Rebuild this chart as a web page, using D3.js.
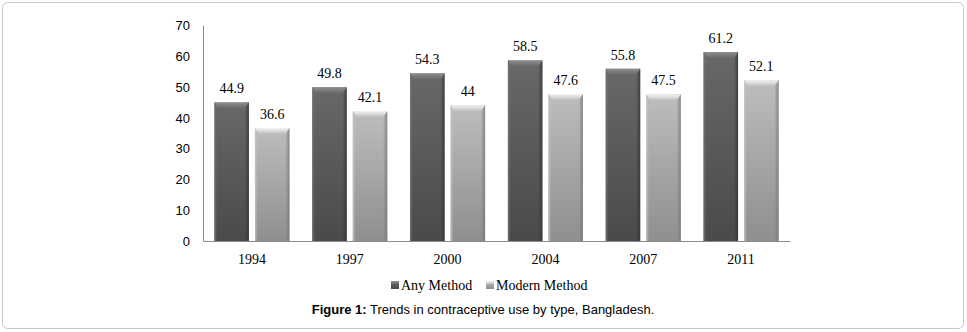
<!DOCTYPE html>
<html>
<head>
<meta charset="utf-8">
<script src="https://cdn.jsdelivr.net/npm/d3@7"></script>
<style>
  body { margin: 0; background: #fff; }
  svg { display: block; }
</style>
</head>
<body>
<svg id="chart" width="967" height="332"></svg>
<script>
const years = ["1994", "1997", "2000", "2004", "2007", "2011"];
const seriesNames = ["Any Method", "Modern Method"];
const anyMethod = [44.9, 49.8, 54.3, 58.5, 55.8, 61.2];
const modernMethod = [36.6, 42.1, 44, 47.6, 47.5, 52.1];
const yTicks = [0, 10, 20, 30, 40, 50, 60, 70];

const svg = d3.select("#chart"),
  margin = { top: 25, left: 203, right: 177, bottom: 91 },
  width = +svg.attr("width") - margin.left - margin.right,
  height = +svg.attr("height") - margin.top - margin.bottom;

// outer frame
svg.append("rect")
  .attr("x", 2.5).attr("y", 2.5)
  .attr("width", 961).attr("height", 326)
  .attr("rx", 5)
  .attr("fill", "#fff")
  .attr("stroke", "#c8c8c8");

const defs = svg.append("defs");
const palettes = {
  "Any Method": { top: "#686868", bottom: "#4a4a4a", bevel: "#8e8e8e", left: "#727272", right: "#333" },
  "Modern Method": { top: "#bdbdbd", bottom: "#8f8f8f", bevel: "#f4f4f4", left: "#c4c4c4", right: "#777" },
};
seriesNames.forEach((s, i) => {
  const p = palettes[s];
  const v = defs.append("linearGradient").attr("id", "v" + i)
    .attr("x1", 0).attr("y1", 0).attr("x2", 0).attr("y2", 1);
  v.append("stop").attr("offset", "0%").attr("stop-color", p.top);
  v.append("stop").attr("offset", "100%").attr("stop-color", p.bottom);
  const h = defs.append("linearGradient").attr("id", "h" + i);
  h.append("stop").attr("offset", "0%").attr("stop-color", p.left).attr("stop-opacity", 0.9);
  h.append("stop").attr("offset", "8%").attr("stop-color", p.left).attr("stop-opacity", 0);
  h.append("stop").attr("offset", "88%").attr("stop-color", p.right).attr("stop-opacity", 0);
  h.append("stop").attr("offset", "100%").attr("stop-color", p.right).attr("stop-opacity", 0.8);
  const b = defs.append("linearGradient").attr("id", "b" + i)
    .attr("x1", 0).attr("y1", 0).attr("x2", 0).attr("y2", 1);
  b.append("stop").attr("offset", "0%").attr("stop-color", p.bevel);
  b.append("stop").attr("offset", "100%").attr("stop-color", p.top);
});

const g = svg.append("g").attr("transform", `translate(${margin.left},${margin.top})`);

const x0 = d3.scaleBand().domain(years).range([0, width])
  .paddingInner(0.233).paddingOuter(0.1165);
const x1 = d3.scaleBand().domain(seriesNames).range([0, x0.bandwidth()]).paddingInner(0.15);
const y = d3.scaleLinear().domain([0, 70]).range([height, 0]);

const data = years.map((yr, i) => ({
  year: yr,
  values: [
    { key: seriesNames[0], idx: 0, value: anyMethod[i] },
    { key: seriesNames[1], idx: 1, value: modernMethod[i] },
  ],
}));

// axes
const yAxis = g.append("g").call(d3.axisLeft(y).tickValues(yTicks).tickSize(0).tickPadding(13));
yAxis.select(".domain").attr("stroke", "#8c8c8c");
yAxis.selectAll("text").attr("font-family", "Liberation Sans, Arial, sans-serif")
  .attr("font-size", 13).attr("fill", "#000").attr("dy", "0.35em");

const groups = g.selectAll(".grp").data(data).enter().append("g")
  .attr("class", "grp")
  .attr("transform", (d) => `translate(${x0(d.year)},0)`);

const bar = groups.selectAll(".bar").data((d) => d.values).enter().append("g").attr("class", "bar");
bar.append("rect")
  .attr("x", (d) => x1(d.key)).attr("width", x1.bandwidth())
  .attr("y", (d) => y(d.value)).attr("height", (d) => height - y(d.value))
  .attr("fill", (d) => `url(#v${d.idx})`);
bar.append("rect")
  .attr("x", (d) => x1(d.key)).attr("width", x1.bandwidth())
  .attr("y", (d) => y(d.value)).attr("height", (d) => height - y(d.value))
  .attr("fill", (d) => `url(#h${d.idx})`);
// top bevel
bar.append("path")
  .attr("d", (d) => {
    const xl = x1(d.key), xr = xl + x1.bandwidth(), yt = y(d.value);
    return `M${xl},${yt}L${xr},${yt}L${xr - 4},${yt + 6}L${xl + 4},${yt + 6}Z`;
  })
  .attr("fill", (d) => `url(#b${d.idx})`);
bar.append("text")
  .attr("x", (d) => x1(d.key) + x1.bandwidth() / 2)
  .attr("y", (d) => y(d.value) - 9)
  .attr("text-anchor", "middle")
  .attr("font-family", "Liberation Serif, Times New Roman, serif")
  .attr("font-size", 14)
  .text((d) => d.value);

const xAxis = g.append("g").attr("transform", `translate(0,${height})`)
  .call(d3.axisBottom(x0).tickSize(0).tickPadding(13));
xAxis.select(".domain").attr("stroke", "#8c8c8c");
xAxis.selectAll("text").attr("font-family", "Liberation Serif, Times New Roman, serif")
  .attr("font-size", 14).attr("fill", "#000");

// legend
const legendX = [391, 486];
const legend = svg.selectAll(".legend").data(seriesNames).enter().append("g")
  .attr("class", "legend")
  .attr("transform", (d, i) => `translate(${legendX[i]},281)`);
legend.append("rect").attr("width", 8).attr("height", 8)
  .attr("fill", (d, i) => `url(#v${i})`);
legend.append("rect").attr("width", 8).attr("height", 3)
  .attr("fill", (d, i) => `url(#b${i})`);
legend.append("text").attr("x", 10).attr("y", 9)
  .attr("font-family", "Liberation Serif, Times New Roman, serif")
  .attr("font-size", 14)
  .text((d) => d);

// caption
const cap = svg.append("text").attr("x", 483).attr("y", 314)
  .attr("text-anchor", "middle")
  .attr("font-family", "Liberation Sans, Arial, sans-serif")
  .attr("font-size", 13);
cap.append("tspan").attr("font-weight", "bold").text("Figure 1:");
cap.append("tspan").text(" Trends in contraceptive use by type, Bangladesh.");
</script>
</body>
</html>
